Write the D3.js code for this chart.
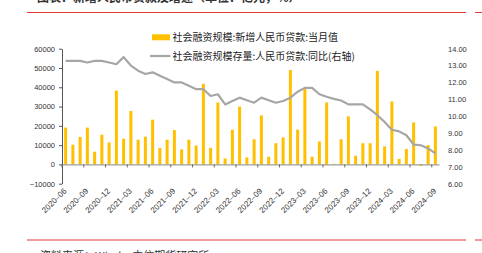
<!DOCTYPE html>
<html>
<head>
<meta charset="utf-8">
<script src="https://cdn.jsdelivr.net/npm/d3@7"></script>
<style>
  body { margin: 0; background: #fff; }
  svg { display: block; }
</style>
</head>
<body>
<svg id="chart" width="482" height="253"></svg>
<script>
// 2020-06 .. 2024-09
const months = [
  "2020-06","2020-07","2020-08","2020-09","2020-10","2020-11","2020-12",
  "2021-01","2021-02","2021-03","2021-04","2021-05","2021-06","2021-07","2021-08","2021-09","2021-10","2021-11","2021-12",
  "2022-01","2022-02","2022-03","2022-04","2022-05","2022-06","2022-07","2022-08","2022-09","2022-10","2022-11","2022-12",
  "2023-01","2023-02","2023-03","2023-04","2023-05","2023-06","2023-07","2023-08","2023-09","2023-10","2023-11","2023-12",
  "2024-01","2024-02","2024-03","2024-04","2024-05","2024-06","2024-07","2024-08","2024-09"
];

// 社会融资规模:新增人民币贷款:当月值 (亿元)
const newLoans = [
  19100, 10200, 14200, 19100, 6600, 15400, 11400,
  38300, 13300, 27700, 12800, 14400, 23200, 8500, 12800, 17800, 7800, 12800, 9800,
  41800, 8600, 32100, 3100, 18000, 30000, 3600, 13000, 25400, 4000, 11000, 14000,
  49000, 18000, 39200, 4000, 11900, 32100, 300, 13000, 24900, 4500, 11000, 11000,
  48500, 9300, 32600, 2900, 8000, 21800, -700, 10000, 19700
];

// 社会融资规模存量:人民币贷款:同比 (%)
const loanGrowth = [
  13.28, 13.28, 13.28, 13.18, 13.28, 13.28, 13.18,
  13.08, 13.5, 13.0, 12.7, 12.5, 12.6, 12.4, 12.2, 12.0, 12.0, 11.8, 11.6,
  11.6, 11.2, 11.3, 10.7, 10.9, 11.1, 10.95, 10.8, 11.1, 10.95, 10.8, 10.9,
  11.1, 11.45, 11.68, 11.68, 11.3, 11.15, 11.03, 10.93, 10.7, 10.7, 10.7,
  10.4, 10.06, 9.66, 9.2, 9.1, 8.87, 8.32, 8.28, 8.09, 7.8
];

const leftTicks = [-10000, 0, 10000, 20000, 30000, 40000, 50000, 60000];
const rightTicks = [6, 7, 8, 9, 10, 11, 12, 13, 14];
const labelMonths = ["2020-06","2020-09","2020-12","2021-03","2021-06","2021-09","2021-12",
  "2022-03","2022-06","2022-09","2022-12","2023-03","2023-06","2023-09","2023-12",
  "2024-03","2024-06","2024-09"];

const seriesNames = ["社会融资规模:新增人民币贷款:当月值", "社会融资规模存量:人民币贷款:同比(右轴)"];

const svg = d3.select("#chart");
const numFont = "'Liberation Sans', Arial, sans-serif";
const cjkFont = "'Noto Sans CJK SC', sans-serif";

const plot = { left: 62, right: 439, top: 48.7, bottom: 183.7 };

const x = d3.scaleBand().domain(months).range([plot.left, plot.right]).padding(0);
const yL = d3.scaleLinear().domain([-10000, 60000]).range([plot.bottom, plot.top]);
const yR = d3.scaleLinear().domain([6, 14]).range([plot.bottom, plot.top]);

// title (cut off at top) and red rules
svg.append("text")
  .attr("x", 37).attr("y", 1.8)
  .attr("font-family", cjkFont).attr("font-size", 12).attr("font-weight", "bold")
  .attr("fill", "#333")
  .text("图表：新增人民币贷款及增速（单位：亿元，%）");

[[12.5], [240]].forEach(([yy]) => {
  svg.append("line").attr("x1", 27).attr("x2", 466).attr("y1", yy).attr("y2", yy)
    .attr("stroke", "#e0393e").attr("stroke-width", 1);
  svg.append("line").attr("x1", 475).attr("x2", 482).attr("y1", yy).attr("y2", yy)
    .attr("stroke", "#e0393e").attr("stroke-width", 1);
});

svg.append("text")
  .attr("x", 40).attr("y", 259.5)
  .attr("font-family", cjkFont).attr("font-size", 11)
  .attr("fill", "#333")
  .text("资料来源：Wind，中信期货研究所");

// bars
const barW = 3;
svg.append("g")
  .selectAll("rect")
  .data(newLoans)
  .join("rect")
  .attr("x", (d, i) => x(months[i]) + x.bandwidth() / 2 - barW / 2)
  .attr("y", d => yL(Math.max(0, d)))
  .attr("width", barW)
  .attr("height", d => Math.abs(yL(d) - yL(0)))
  .attr("fill", "#ffc000");

// left axis
const gL = svg.append("g")
  .attr("transform", `translate(${plot.left},0)`)
  .call(d3.axisLeft(yL).tickValues(leftTicks).tickSize(3).tickSizeOuter(0)
    .tickFormat(d => d < 0 ? "\u2212" + Math.abs(d) : d));
gL.select(".domain").attr("stroke", "#555");
gL.selectAll(".tick line").attr("stroke", "#555");
gL.selectAll(".tick text")
  .attr("font-family", numFont).attr("font-size", 7.5).attr("fill", "#333").attr("x", -7);

// right axis labels (no line)
const gR = svg.append("g")
  .attr("transform", `translate(${plot.right},0)`)
  .call(d3.axisRight(yR).tickValues(rightTicks).tickSize(0).tickFormat(d3.format(".2f")));
gR.select(".domain").remove();
gR.selectAll(".tick text")
  .attr("font-family", numFont).attr("font-size", 7.5).attr("fill", "#333").attr("x", 9);

// category axis at zero
const gX = svg.append("g")
  .attr("transform", `translate(0,${yL(0)})`)
  .call(d3.axisBottom(x).tickValues(months.filter((m, i) => i % 3 === 0))
    .tickSize(3).tickSizeOuter(0).tickFormat(""));
gX.select(".domain").attr("stroke", "#888");
gX.selectAll(".tick").attr("transform", d => `translate(${x(d)},0)`);
gX.selectAll(".tick line").attr("stroke", "#666");

// rotated month labels
svg.append("g")
  .selectAll("text")
  .data(labelMonths)
  .join("text")
  .attr("transform", d => `translate(${x(d) + x.bandwidth() / 2 + 1.5},${191.5}) rotate(-45)`)
  .attr("text-anchor", "end")
  .attr("font-family", numFont).attr("font-size", 8).attr("fill", "#333")
  .text(d => d.replace("-", "\u2013"));

// line
const line = d3.line()
  .x((d, i) => x(months[i]) + x.bandwidth() / 2)
  .y(d => yR(d));
svg.append("path")
  .datum(loanGrowth)
  .attr("fill", "none")
  .attr("stroke", "#a6a6a6")
  .attr("stroke-width", 2.2)
  .attr("stroke-linejoin", "round")
  .attr("d", line);

// legend
const lg = svg.append("g");
lg.append("rect").attr("x", 152).attr("y", 34.3).attr("width", 18).attr("height", 6).attr("fill", "#ffc000");
lg.append("line").attr("x1", 150).attr("x2", 170.5).attr("y1", 56).attr("y2", 56)
  .attr("stroke", "#a6a6a6").attr("stroke-width", 2.2);
lg.selectAll("text")
  .data(seriesNames)
  .join("text")
  .attr("x", 172.5)
  .attr("y", (d, i) => i === 0 ? 37.3 : 56.3)
  .attr("dy", "0.35em")
  .attr("font-family", cjkFont).attr("font-size", 10).attr("fill", "#222")
  .text(d => d);
</script>
</body>
</html>
